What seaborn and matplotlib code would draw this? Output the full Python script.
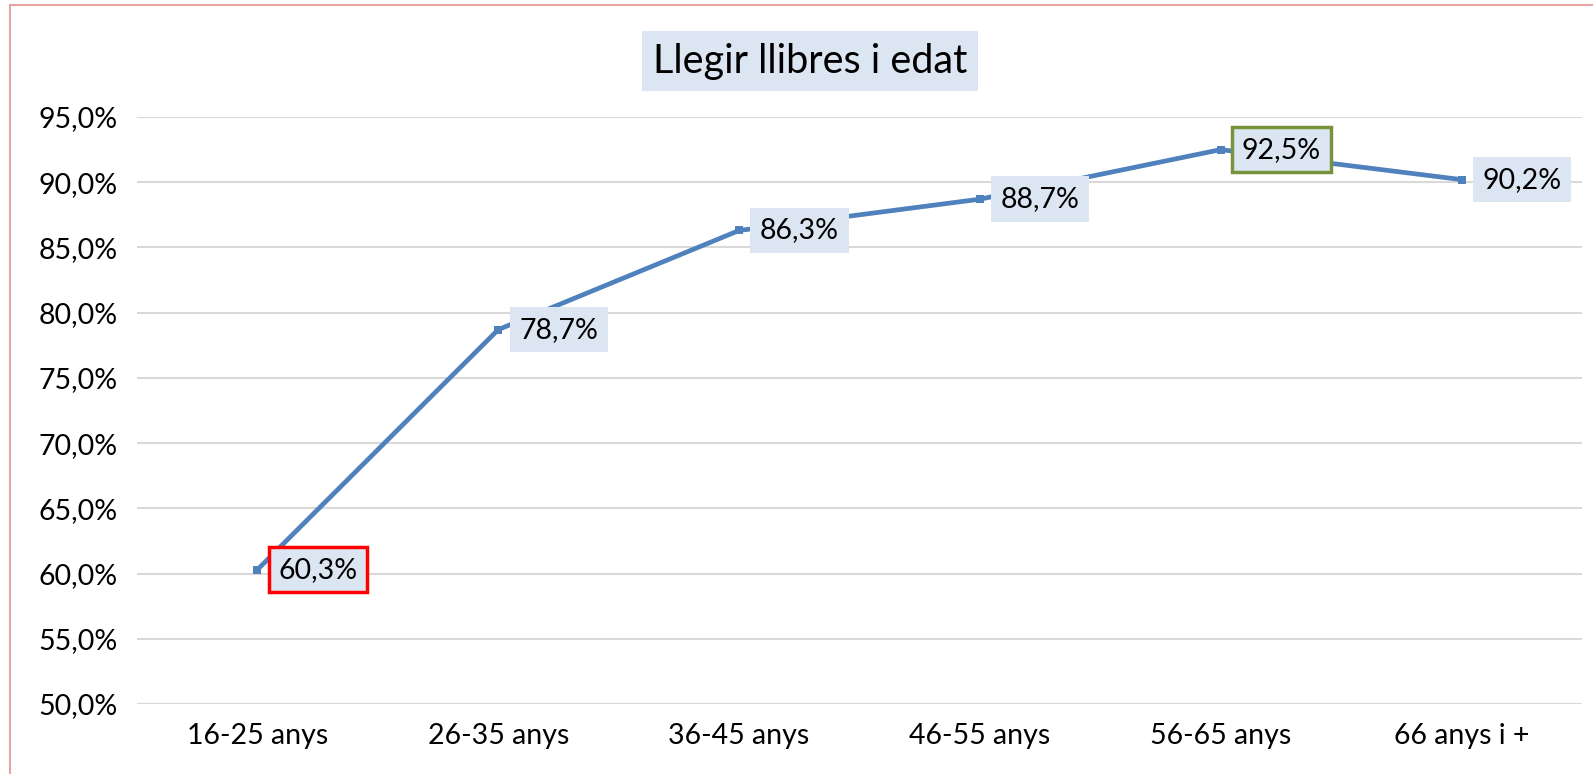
import matplotlib
matplotlib.use("Agg")
import matplotlib.pyplot as plt
import seaborn as sns
import pandas as pd
from matplotlib.lines import Line2D

categories = ["16-25 anys", "26-35 anys", "36-45 anys", "46-55 anys", "56-65 anys", "66 anys i +"]
values = [60.3, 78.7, 86.3, 88.7, 92.5, 90.2]
yticks = [50, 55, 60, 65, 70, 75, 80, 85, 90, 95]
title = "Llegir llibres i edat"

sns.set_theme(style="white")
plt.rcParams['font.family'] = ['Lato', 'DejaVu Sans']
plt.rcParams['text.color'] = 'black'
plt.rcParams['xtick.color'] = 'black'
plt.rcParams['ytick.color'] = 'black'

fig = plt.figure(figsize=(15.93, 7.74), dpi=100)
ax = fig.add_axes([137/1593, 1-704/774, (1582-137)/1593, (704-117)/774])

df = pd.DataFrame({"cat": categories, "val": values})
sns.lineplot(data=df, x="cat", y="val", ax=ax, color="#4F81BD", linewidth=3.4,
             marker="s", markersize=6, markeredgewidth=0, sort=False)

ax.set_xlim(-0.5, len(categories) - 0.5)
ax.set_ylim(50, 95)
ax.set_yticks(yticks)
ax.set_yticklabels([f"{v:.1f}%".replace(".", ",") for v in yticks], fontsize=20.5, color="black")
ax.set_xticks(range(len(categories)))
ax.set_xticklabels(categories, fontsize=20.5, color="black")
ax.tick_params(axis="y", length=0, pad=14)
ax.tick_params(axis="x", length=0, pad=14)
ax.set_xlabel("")
ax.set_ylabel("")
for s in ax.spines.values():
    s.set_visible(False)
ax.grid(axis="y", color="#D9D9D9", linewidth=1.5)
ax.set_axisbelow(True)

edge = {0: ("#FF0000", 2.5), 4: ("#77933C", 2.5)}
for i, v in enumerate(values):
    ec, lw = edge.get(i, ("none", 0))
    ax.annotate(f"{v:.1f}%".replace(".", ","), xy=(i, v), xytext=(21, 0),
                textcoords="offset pixels",
                ha="left", va="center", fontsize=20.5, color="black",
                bbox=dict(boxstyle="square,pad=0.34", fc="#DCE6F2", ec=ec, lw=lw),
                zorder=5)

fig.text(810/1593, 1-61/774, title, ha="center", va="center", fontsize=28.5, color="black",
         bbox=dict(boxstyle="square,pad=0.28", fc="#DCE6F2", ec="none"))

fig.add_artist(Line2D([10/1593, 10/1593], [0, 1-5/774], color="#E6A3A3", lw=1.5,
                      transform=fig.transFigure))
fig.add_artist(Line2D([10/1593, 1], [1-5/774, 1-5/774], color="#E6A3A3", lw=1.5,
                      transform=fig.transFigure))

fig.savefig("out.png", dpi=100, facecolor="white")
